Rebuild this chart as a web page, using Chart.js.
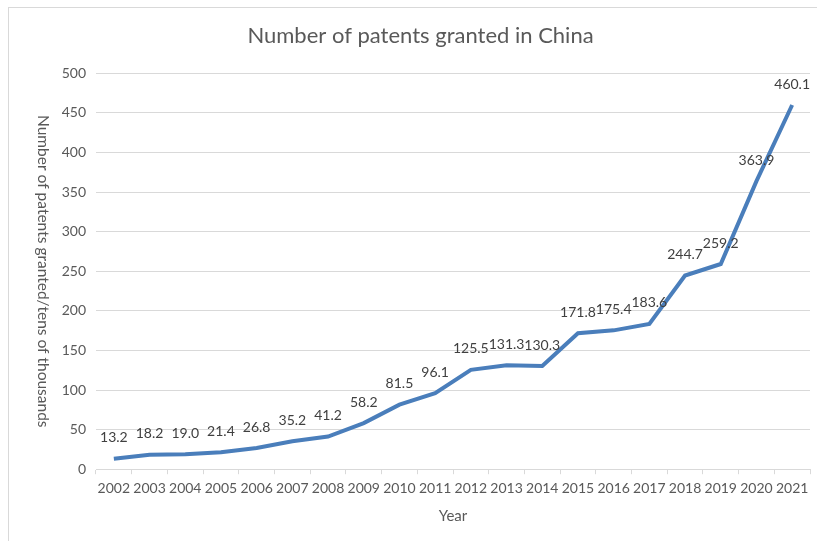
<!DOCTYPE html>
<html>
<head>
<meta charset="utf-8">
<script src="https://cdn.jsdelivr.net/npm/chart.js@4"></script>
<style>
  html, body { margin: 0; padding: 0; background: #fff; overflow: hidden; }
  #frame {
    position: absolute; left: 8px; top: 7px;
    width: 900px; height: 600px;
    border-left: 1px solid #d9d9d9; border-top: 1px solid #d9d9d9;
  }
  #wrap { position: absolute; left: 0; top: 0; width: 808px; height: 533px; }
</style>
</head>
<body>
<div id="frame"><div id="wrap"><canvas id="patents"></canvas></div></div>
<script>
const years = ["2002", "2003", "2004", "2005", "2006", "2007", "2008", "2009", "2010", "2011",
  "2012", "2013", "2014", "2015", "2016", "2017", "2018", "2019", "2020", "2021"];
const granted = [13.2, 18.2, 19.0, 21.4, 26.8, 35.2, 41.2, 58.2, 81.5, 96.1,
  125.5, 131.3, 130.3, 171.8, 175.4, 183.6, 244.7, 259.2, 363.9, 460.1];
const yTicks = [0, 50, 100, 150, 200, 250, 300, 350, 400, 450, 500];

const FONT = "Lato";
const GREY = "#595959";

// value labels above each point
const pointLabels = {
  id: "pointLabels",
  afterDatasetsDraw(chart) {
    const ctx = chart.ctx;
    const meta = chart.getDatasetMeta(0);
    ctx.save();
    ctx.font = "14px " + FONT;
    ctx.fillStyle = "#404040";
    ctx.textAlign = "center";
    ctx.textBaseline = "middle";
    meta.data.forEach((pt, i) => {
      ctx.fillText(granted[i].toFixed(1), pt.x, pt.y - 21);
    });
    ctx.restore();
  }
};

// y axis title, reading top to bottom
const sideTitle = {
  id: "sideTitle",
  afterDraw(chart) {
    const ctx = chart.ctx;
    const area = chart.chartArea;
    ctx.save();
    ctx.translate(34, (area.top + area.bottom) / 2);
    ctx.rotate(Math.PI / 2);
    ctx.font = "15.5px " + FONT;
    ctx.fillStyle = GREY;
    ctx.textAlign = "center";
    ctx.textBaseline = "middle";
    ctx.fillText("Number of patents granted/tens of thousands", 0, 0);
    ctx.restore();
  }
};

new Chart(document.getElementById("patents"), {
  type: "line",
  data: {
    labels: years,
    datasets: [{
      label: "Patents granted",
      data: granted,
      borderColor: "#4a7ebb",
      borderWidth: 4,
      pointRadius: 0,
      tension: 0,
      fill: false
    }]
  },
  options: {
    responsive: true,
    maintainAspectRatio: false,
    animation: false,
    layout: { padding: { left: 22, right: 7, top: 0, bottom: 16 } },
    plugins: {
      legend: { display: false },
      tooltip: { enabled: false },
      title: {
        display: true,
        text: "Number of patents granted in China",
        color: GREY,
        font: { family: FONT, size: 22, weight: "normal" },
        padding: { top: 15, bottom: 24 }
      }
    },
    scales: {
      x: {
        offset: true,
        grid: {
          offset: true,
          drawOnChartArea: false,
          color: "#d9d9d9",
          tickLength: 5
        },
        border: { color: "#d9d9d9" },
        ticks: {
          color: GREY,
          font: { family: FONT, size: 14 },
          maxRotation: 0,
          autoSkip: false,
          padding: 6
        },
        title: {
          display: true,
          text: "Year",
          color: GREY,
          font: { family: FONT, size: 15 },
          padding: { top: 4, bottom: 0 }
        }
      },
      y: {
        min: 0,
        max: 500,
        afterBuildTicks(scale) {
          scale.ticks = yTicks.map(v => ({ value: v }));
        },
        afterFit(scale) {
          scale.width = 65;
        },
        grid: { color: "#d9d9d9", drawTicks: false },
        border: { display: false },
        ticks: {
          color: GREY,
          font: { family: FONT, size: 14 },
          padding: 10
        }
      }
    }
  },
  plugins: [pointLabels, sideTitle]
});
</script>
</body>
</html>
